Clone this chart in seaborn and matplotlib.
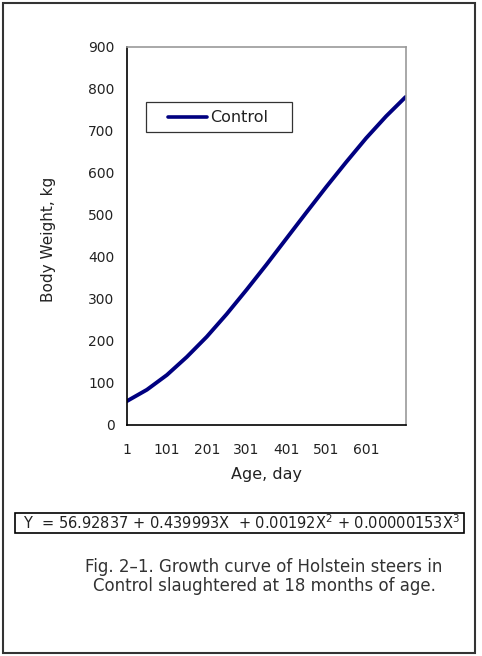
import matplotlib
matplotlib.use("Agg")
import matplotlib.pyplot as plt
import seaborn as sns
import pandas as pd
from matplotlib.patches import Rectangle

# Data
age_days = [1, 51, 101, 151, 201, 251, 301, 351, 401, 451, 501, 551, 601, 651, 700]
body_weight = [57, 84, 119, 162, 210, 264, 322, 382, 444, 506, 567, 626, 683, 735, 781]
x_ticks = [1, 101, 201, 301, 401, 501, 601]
y_ticks = [0, 100, 200, 300, 400, 500, 600, 700, 800, 900]
series_name = "Control"

df = pd.DataFrame({"Age": age_days, "Weight": body_weight, "Group": series_name})

sns.set_style("white")
plt.rcParams["font.family"] = ["DejaVu Sans"]

fig = plt.figure(figsize=(4.82, 6.56), dpi=100)
ax = fig.add_axes([127/482, 1-425/656, (406-127)/482, (425-47)/656])

sns.lineplot(data=df, x="Age", y="Weight", hue="Group", palette=["#000080"],
             linewidth=2.8, ax=ax, legend=False)

ax.set_xlim(1, 701)
ax.set_ylim(0, 900)
ax.set_xticks(x_ticks)
ax.set_yticks(y_ticks)
ax.set_xticklabels([str(t) for t in x_ticks], fontsize=10, color="#222222")
ax.set_yticklabels([str(t) for t in y_ticks], fontsize=10, color="#222222")
ax.tick_params(axis="y", direction="out", length=5, width=1, color="black", pad=4)
ax.tick_params(axis="x", direction="in", length=4, width=1, color="black", pad=13)
ax.set_xlabel("Age, day", fontsize=11.5, labelpad=7, color="#222222")
ax.set_ylabel("Body Weight, kg", fontsize=11, color="#222222")
ax.yaxis.set_label_coords(-0.255, 0.49)
for s in ["left", "bottom"]:
    ax.spines[s].set_color("black")
    ax.spines[s].set_linewidth(1.2)
for s in ["top", "right"]:
    ax.spines[s].set_color("#999999")
    ax.spines[s].set_linewidth(1.2)
    ax.spines[s].set_visible(True)

# Legend box
fig.patches.append(Rectangle((146/482, 1-132/656), (292-146)/482, 30/656,
                             transform=fig.transFigure, fill=False,
                             edgecolor="#333333", linewidth=0.9))
fig.lines.append(plt.Line2D([168/482, 207/482], [1-117/656, 1-117/656],
                            transform=fig.transFigure, color="#000080", linewidth=2.6))
fig.text(210/482, 1-117/656, series_name, fontsize=11.5, va="center", ha="left", color="#222222")

# Equation box
fig.patches.append(Rectangle((15/482, 1-533/656), (464-15)/482, 20/656,
                             transform=fig.transFigure, fill=False,
                             edgecolor="black", linewidth=1.2))
fig.text(241/482, 1-523/656,
         r"Y  = 56.92837 + 0.439993X  + 0.00192X$^{\mathregular{2}}$ + 0.00000153X$^{\mathregular{3}}$",
         fontsize=10.5, ha="center", va="center", color="#222222")

# Caption
fig.text(264/482, 1-567/656, "Fig. 2\u20131. Growth curve of Holstein steers in",
         fontsize=12, ha="center", va="center", color="#333333")
fig.text(264/482, 1-586/656, "Control slaughtered at 18 months of age.",
         fontsize=12, ha="center", va="center", color="#333333")

# Outer border
fig.patches.append(Rectangle((3/482, 3/656), (475-3)/482, (653-3)/656,
                             transform=fig.transFigure, fill=False,
                             edgecolor="#333333", linewidth=1.5))

fig.savefig("out.png", dpi=100)
